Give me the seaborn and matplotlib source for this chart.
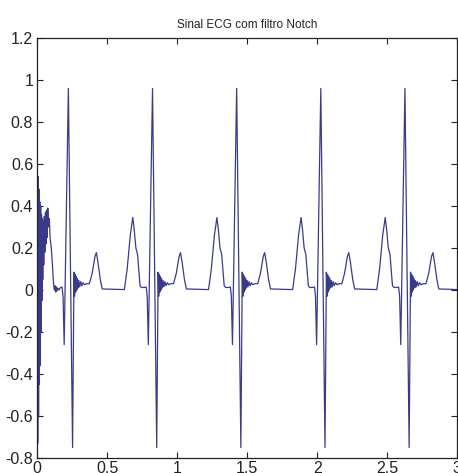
import matplotlib
matplotlib.use("Agg")
import matplotlib.pyplot as plt
from matplotlib.ticker import FuncFormatter
import numpy as np
import pandas as pd
import seaborn as sns

# --- values (time in s, amplitude) ---
# filter start-up transient, before the first beat
start_t = [0.000, 0.003, 0.006, 0.009, 0.012, 0.015, 0.018, 0.021, 0.024, 0.027,
           0.030, 0.033, 0.036, 0.039, 0.042, 0.046, 0.050, 0.054, 0.058, 0.062,
           0.066, 0.070, 0.075, 0.080, 0.086, 0.092, 0.097, 0.100, 0.108, 0.116,
           0.122, 0.127, 0.131, 0.135, 0.140, 0.146, 0.155, 0.163, 0.170]
start_v = [0.75, -0.73, 0.54, -0.60, 0.48, -0.45, 0.42, -0.36, 0.40, -0.20,
           0.36, -0.05, 0.34, 0.05, 0.33, 0.12, 0.35, 0.18, 0.37, 0.22,
           0.38, 0.25, 0.39, 0.30, 0.34, 0.24, 0.22, 0.20, 0.12, 0.03,
           0.00, 0.02, -0.01, 0.015, -0.005, 0.01, 0.00, 0.01, 0.012]

beat1_t = [0.177, 0.184, 0.192, 0.222, 0.252, 0.262, 0.266, 0.270, 0.274, 0.278,
           0.282, 0.287, 0.292, 0.297, 0.303, 0.310, 0.318, 0.327, 0.337, 0.352,
           0.372, 0.392, 0.412, 0.422, 0.434, 0.450, 0.464, 0.622, 0.642, 0.664,
           0.682, 0.692, 0.704, 0.716, 0.734, 0.744]
beat1_v = [0.014, -0.03, -0.26, 0.96, -0.75, 0.085, -0.03, 0.075, -0.01, 0.065,
           0.000, 0.055, 0.010, 0.045, 0.015, 0.040, 0.020, 0.035, 0.025, 0.030,
           0.030, 0.080, 0.160, 0.178, 0.130, 0.050, 0.005, 0.002, 0.100, 0.260,
           0.345, 0.290, 0.200, 0.170, 0.020, 0.012]

beat2_t = [0.763, 0.778, 0.785, 0.793, 0.823, 0.853, 0.863, 0.867, 0.871, 0.875,
           0.879, 0.883, 0.888, 0.893, 0.898, 0.904, 0.911, 0.919, 0.928, 0.938,
           0.953, 0.973, 0.993, 1.013, 1.023, 1.035, 1.051, 1.065, 1.223, 1.243,
           1.265, 1.283, 1.293, 1.305, 1.317, 1.335, 1.345]
beat2_v = [0.012, 0.014, -0.03, -0.26, 0.96, -0.75, 0.085, -0.03, 0.075, -0.01,
           0.065, 0.000, 0.055, 0.010, 0.045, 0.015, 0.040, 0.020, 0.035, 0.025,
           0.030, 0.030, 0.080, 0.160, 0.178, 0.130, 0.050, 0.005, 0.002, 0.100,
           0.260, 0.345, 0.290, 0.200, 0.170, 0.020, 0.012]

beat3_t = [1.364, 1.379, 1.386, 1.394, 1.424, 1.454, 1.464, 1.468, 1.472, 1.476,
           1.480, 1.484, 1.489, 1.494, 1.499, 1.505, 1.512, 1.520, 1.529, 1.539,
           1.554, 1.574, 1.594, 1.614, 1.624, 1.636, 1.652, 1.666, 1.824, 1.844,
           1.866, 1.884, 1.894, 1.906, 1.918, 1.936, 1.946]
beat3_v = [0.012, 0.014, -0.03, -0.26, 0.96, -0.75, 0.085, -0.03, 0.075, -0.01,
           0.065, 0.000, 0.055, 0.010, 0.045, 0.015, 0.040, 0.020, 0.035, 0.025,
           0.030, 0.030, 0.080, 0.160, 0.178, 0.130, 0.050, 0.005, 0.002, 0.100,
           0.260, 0.345, 0.290, 0.200, 0.170, 0.020, 0.012]

beat4_t = [1.965, 1.980, 1.987, 1.995, 2.025, 2.055, 2.065, 2.069, 2.073, 2.077,
           2.081, 2.085, 2.090, 2.095, 2.100, 2.106, 2.113, 2.121, 2.130, 2.140,
           2.155, 2.175, 2.195, 2.215, 2.225, 2.237, 2.253, 2.267, 2.425, 2.445,
           2.467, 2.485, 2.495, 2.507, 2.519, 2.537, 2.547]
beat4_v = [0.012, 0.014, -0.03, -0.26, 0.96, -0.75, 0.085, -0.03, 0.075, -0.01,
           0.065, 0.000, 0.055, 0.010, 0.045, 0.015, 0.040, 0.020, 0.035, 0.025,
           0.030, 0.030, 0.080, 0.160, 0.178, 0.130, 0.050, 0.005, 0.002, 0.100,
           0.260, 0.345, 0.290, 0.200, 0.170, 0.020, 0.012]

beat5_t = [2.566, 2.581, 2.588, 2.596, 2.626, 2.656, 2.666, 2.670, 2.674, 2.678,
           2.682, 2.686, 2.691, 2.696, 2.701, 2.707, 2.714, 2.722, 2.731, 2.741,
           2.756, 2.776, 2.796, 2.816, 2.826, 2.838, 2.854, 2.868, 3.000]
beat5_v = [0.012, 0.014, -0.03, -0.26, 0.96, -0.75, 0.085, -0.03, 0.075, -0.01,
           0.065, 0.000, 0.055, 0.010, 0.045, 0.015, 0.040, 0.020, 0.035, 0.025,
           0.030, 0.030, 0.080, 0.160, 0.178, 0.130, 0.050, 0.005, 0.002]

x_ticks = [0, 0.5, 1, 1.5, 2, 2.5, 3]
y_ticks = [-0.8, -0.6, -0.4, -0.2, 0, 0.2, 0.4, 0.6, 0.8, 1, 1.2]
title = 'Sinal ECG com filtro Notch'

ecg = pd.DataFrame({
    't': start_t + beat1_t + beat2_t + beat3_t + beat4_t + beat5_t,
    'v': start_v + beat1_v + beat2_v + beat3_v + beat4_v + beat5_v,
})

sns.set_theme(style='ticks')
plt.rcParams['font.family'] = ['Liberation Sans Narrow', 'Liberation Sans', 'DejaVu Sans']

fig = plt.figure(figsize=(4.58, 4.73), dpi=100)
ax = fig.add_axes([37.3 / 458, 15 / 473, 420 / 458, 420 / 473])

sns.lineplot(data=ecg, x='t', y='v', ax=ax, color='#3a3a8a', linewidth=0.9,
             sort=False, estimator=None)

ax.set_xlim(0, 3)
ax.set_ylim(-0.8, 1.2)
ax.set_xticks(x_ticks)
ax.set_yticks(y_ticks)
fmt = FuncFormatter(lambda v, p: '%g' % round(v, 2))
ax.xaxis.set_major_formatter(fmt)
ax.yaxis.set_major_formatter(fmt)
ax.set_xlabel('')
ax.set_ylabel('')
ax.tick_params(direction='in', length=4, width=0.8, colors='#222222',
               top=True, right=True, labelsize=11.5)
ax.tick_params(axis='x', pad=2)
ax.tick_params(axis='y', pad=3)
for s in ax.spines.values():
    s.set_visible(True)
    s.set_color('#222222')
    s.set_linewidth(0.9)
ax.set_title(title, fontsize=8.5, pad=7, color='#222222')

fig.savefig('out.png', dpi=100, facecolor='white')
